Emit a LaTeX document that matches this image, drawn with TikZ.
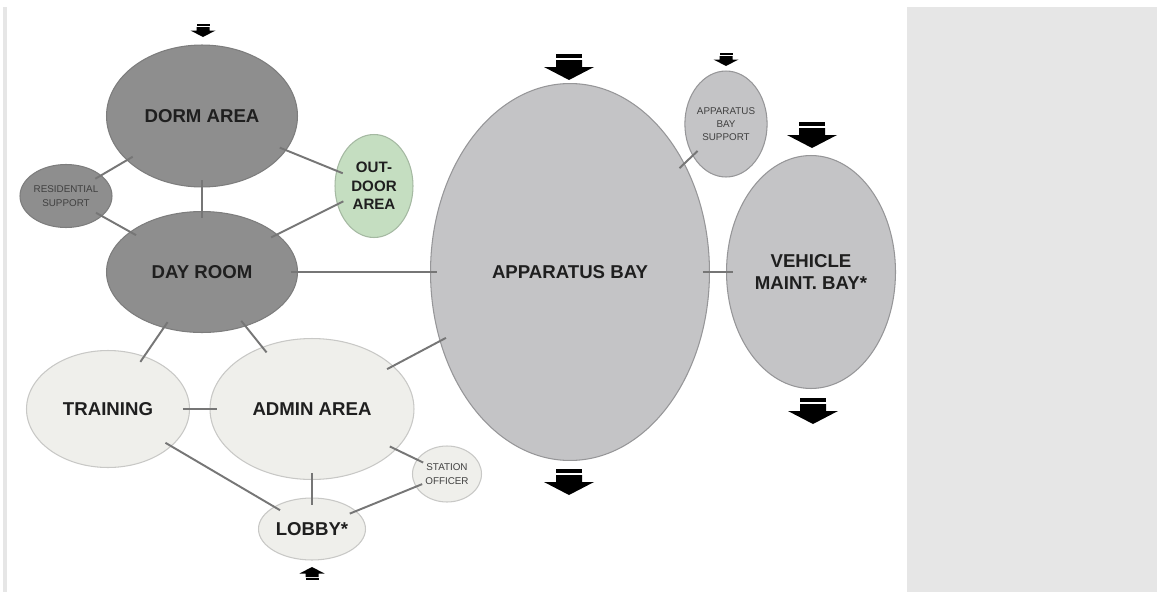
\documentclass[tikz,border=0pt]{standalone}
\usepackage{fontspec}
\setmainfont{Liberation Sans}
\usetikzlibrary{shapes.geometric}
\definecolor{staffgray}{RGB}{142,142,142}
\definecolor{staffedge}{RGB}{125,125,125}
\definecolor{baygray}{RGB}{196,196,198}
\definecolor{bayedge}{RGB}{150,150,152}
\definecolor{publicfill}{RGB}{239,239,235}
\definecolor{publicedge}{RGB}{200,200,198}
\definecolor{outgreen}{RGB}{197,222,193}
\definecolor{outedge}{RGB}{165,185,162}
\definecolor{linegray}{RGB}{118,118,118}
\definecolor{panelgray}{RGB}{230,230,230}
\tikzset{
  zone/.style={ellipse, inner sep=0pt, align=center, text=black!88, line width=0.6pt},
  staffzone/.style={zone, fill=staffgray, draw=staffedge},
  bayzone/.style={zone, fill=baygray, draw=bayedge},
  publiczone/.style={zone, fill=publicfill, draw=publicedge},
  outzone/.style={zone, fill=outgreen, draw=outedge},
  bigtext/.style={font=\fontsize{10.6}{12.5}\selectfont\bfseries},
  midtext/.style={font=\fontsize{8.6}{10.5}\selectfont\bfseries},
  smalltext/.style={font=\fontsize{5.6}{7.6}\selectfont, text=black!75},
  link/.style={draw=linegray, line width=1.1pt, shorten <=-4pt, shorten >=-4pt}
}
% block arrow: tip at (#1,#2), scale #3, rotation #4
\newcommand{\bayarrow}[4]{
    \begin{scope}[shift={(#1,#2)}, scale=#3, rotate=#4]
        \fill[black] (-13,-26) rectangle (13,-22);
        \fill[black] (-13,-20) -- (13,-20) -- (13,-13) -- (25,-13) -- (0,0)
            -- (-25,-13) -- (-13,-13) -- cycle;
    \end{scope}
}

\begin{document}
\begin{tikzpicture}[x=0.02cm, y=-0.02cm]

    % Marco y panel lateral
    \path[use as bounding box, fill=white] (0,0) rectangle (1157,592);
    \fill[panelgray] (3,7) rectangle (7,592);
    \fill[panelgray] (907,7) rectangle (1157,592);

    % Zonas del personal
    \node[staffzone, minimum width=3.82cm, minimum height=2.84cm, bigtext] (dorm) at (202,116) {DORM AREA};
    \node[staffzone, minimum width=1.84cm, minimum height=1.26cm, smalltext] (ressup) at (66,196) {RESIDENTIAL\\SUPPORT};
    \node[outzone, minimum width=1.56cm, minimum height=2.06cm, midtext] (outdoor) at (374,186) {OUT-\\DOOR\\AREA};
    \node[staffzone, minimum width=3.82cm, minimum height=2.42cm, bigtext] (dayroom) at (202,272) {DAY ROOM};

    % Zonas publicas
    \node[publiczone, minimum width=3.26cm, minimum height=2.34cm, bigtext] (training) at (108,409) {TRAINING};
    \node[publiczone, minimum width=4.08cm, minimum height=2.82cm, bigtext] (admin) at (312,409) {ADMIN AREA};
    \node[publiczone, minimum width=1.38cm, minimum height=1.12cm, smalltext] (station) at (447,474) {STATION\\OFFICER};
    \node[publiczone, minimum width=2.14cm, minimum height=1.24cm, bigtext] (lobby) at (312,529) {LOBBY*};

    % Zonas de vehiculos
    \node[bayzone, minimum width=5.58cm, minimum height=7.54cm, bigtext] (appbay) at (570,272) {APPARATUS BAY};
    \node[bayzone, minimum width=1.58cm, minimum height=2.12cm, smalltext] (appsup) at (726,124) {APPARATUS\\BAY\\SUPPORT};
    \node[bayzone, minimum width=3.38cm, minimum height=4.66cm, bigtext] (vehicle) at (811,272) {VEHICLE\\MAINT. BAY*};

    % Conexiones
    \draw[link] (dorm) -- (ressup);
    \draw[link] (dorm) -- (outdoor);
    \draw[link] (dorm) -- (dayroom);
    \draw[link] (ressup) -- (dayroom);
    \draw[link] (outdoor) -- (dayroom);
    \draw[link] (dayroom) -- (appbay);
    \draw[link] (dayroom) -- (training);
    \draw[link] (dayroom) -- (admin);
    \draw[link] (appbay) -- (admin);
    \draw[link] (appbay) -- (vehicle);
    \draw[link] (appsup) -- (appbay);
    \draw[link] (training) -- (admin);
    \draw[link] (training) -- (lobby);
    \draw[link] (admin) -- (lobby);
    \draw[link] (admin) -- (station);
    \draw[link] (station) -- (lobby);

    % Accesos
    \bayarrow{203}{37}{0.5}{0}
    \bayarrow{569}{80}{1}{0}
    \bayarrow{569}{495}{1}{0}
    \bayarrow{726}{66}{0.5}{0}
    \bayarrow{812}{148}{1}{0}
    \bayarrow{813}{424}{1}{0}
    \bayarrow{312}{567}{0.5}{180}

\end{tikzpicture}
\end{document}
